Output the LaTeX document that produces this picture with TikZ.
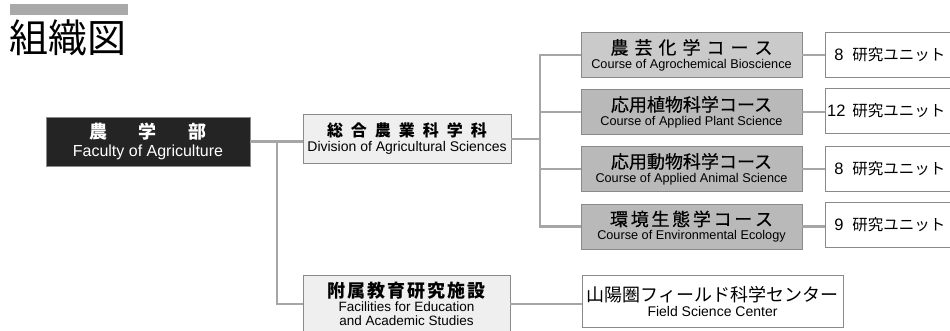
\documentclass[tikz,border=0pt]{standalone}
\usepackage{fontspec}
\setmainfont{Liberation Sans}
\newfontfamily\jp{Noto Sans CJK JP}
\newfontfamily\jpm[FakeBold=0.4]{Noto Sans CJK JP}
\newcommand{\enfs}[1]{\fontsize{#1}{#1}\selectfont}
\newcommand{\jpfs}[1]{\jp\fontsize{#1}{#1}\selectfont}
\newcommand{\jpmfs}[1]{\jpm\fontsize{#1}{#1}\selectfont}
\definecolor{linegray}{HTML}{A6A6A6}
\definecolor{bordergray}{HTML}{8A8A8A}
\definecolor{coursegrayA}{HTML}{CACACA}
\definecolor{coursegrayB}{HTML}{B9B9B9}
\definecolor{lightfill}{HTML}{EFEFEF}
\definecolor{facfill}{HTML}{242424}
\definecolor{barfill}{HTML}{A9A9A9}
\begin{document}
\begin{tikzpicture}[x=1pt,y=-1pt,
  conn/.style={draw=linegray, line width=2.6pt},
  boxbase/.style={draw=bordergray, line width=0.9pt, inner sep=0pt, align=center},
  facbox/.style={boxbase, fill=facfill, text=white, minimum width=204pt, minimum height=49pt},
  divbox/.style={boxbase, fill=lightfill, minimum width=208pt, minimum height=49pt},
  coursebox/.style={boxbase, fill=coursegrayB, minimum width=221pt, minimum height=45pt},
  unitbox/.style={boxbase, fill=white, anchor=west, minimum width=140pt, minimum height=45pt},
  fasbox/.style={boxbase, fill=lightfill, minimum width=207pt, minimum height=58pt},
  fldbox/.style={boxbase, fill=white, minimum width=261pt, minimum height=52pt},
  titlebar/.style={fill=barfill, inner sep=0pt, minimum width=118pt, minimum height=11pt}
]
\useasboundingbox (0,0) rectangle (950,331);
\fill[white] (0,0) rectangle (950,331);

% title
\node[titlebar] (bar) at (69,9.5) {};
\node[anchor=west, inner sep=0pt, font=\jpfs{39}] (title) at (9,38) {組織図};

% boxes
\node[facbox] (fac) at (148,141.5)
  {{\jpfs{18}\bfseries 農\hspace{32pt}学\hspace{32pt}部}\\[3pt]{\enfs{16}Faculty of Agriculture}};
\node[divbox] (div) at (407,139)
  {{\jpfs{16}\bfseries 総\hspace{8pt}合\hspace{8pt}農\hspace{8pt}業\hspace{8pt}科\hspace{8pt}学\hspace{8pt}科}\\[3pt]{\enfs{14}Division of Agricultural Sciences}};

\node[coursebox, fill=coursegrayA] (c1) at (691.5,55)
  {{\jpmfs{18}農\hspace{6pt}芸\hspace{6pt}化\hspace{6pt}学\hspace{6pt}コ\hspace{6pt}ー\hspace{6pt}ス}\\[2pt]{\enfs{12.7}Course of Agrochemical Bioscience}};
\node[coursebox] (c2) at (691.5,112)
  {{\jpmfs{18}応用植物科学コース}\\[2pt]{\enfs{12.7}Course of Applied Plant Science}};
\node[coursebox] (c3) at (691.5,169)
  {{\jpmfs{18}応用動物科学コース}\\[2pt]{\enfs{12.7}Course of Applied Animal Science}};
\node[coursebox] (c4) at (691.5,226.5)
  {{\jpmfs{18}環\hspace{2.7pt}境\hspace{2.7pt}生\hspace{2.7pt}態\hspace{2.7pt}学\hspace{2.7pt}コ\hspace{2.7pt}ー\hspace{2.7pt}ス}\\[2pt]{\enfs{12.7}Course of Environmental Ecology}};

\node[unitbox] (u1) at (825,55) {\makebox[118pt][r]{\enfs{16.5}8\hspace{9pt}\jpfs{15.5}研究ユニット}\hspace{18pt}};
\node[unitbox] (u2) at (825,111) {\makebox[118pt][r]{\enfs{16.5}12\hspace{7pt}\jpfs{15.5}研究ユニット}\hspace{18pt}};
\node[unitbox] (u3) at (825,168.5) {\makebox[118pt][r]{\enfs{16.5}8\hspace{9pt}\jpfs{15.5}研究ユニット}\hspace{18pt}};
\node[unitbox] (u4) at (825,225) {\makebox[118pt][r]{\enfs{16.5}9\hspace{9pt}\jpfs{15.5}研究ユニット}\hspace{18pt}};

\node[fasbox] (fas) at (406.5,304)
  {{\jpfs{18}\bfseries 附\hspace{2pt}属\hspace{2pt}教\hspace{2pt}育\hspace{2pt}研\hspace{2pt}究\hspace{2pt}施\hspace{2pt}設}\\[2pt]{\enfs{13.5}Facilities for Education}\\[1.5pt]{\enfs{13.5}and Academic Studies}};
\node[fldbox] (fld) at (712.5,301)
  {{\jpfs{18}山陽圏フィールド科学センター}\\[3pt]{\enfs{14}Field Science Center}};

% connectors
\coordinate (j1) at (277,141.5);
\coordinate (j2) at (540,139);
\draw[conn] (fac.east) -- (fac.east -| div.west);
\draw[conn] (j1) |- (fas.west);
\draw[conn] (div.east) -- (j2);
\draw[conn] (c1.west) -| (j2) |- (c4.west);
\draw[conn] (j2 |- c2.west) -- (c2.west);
\draw[conn] (j2 |- c3.west) -- (c3.west);
\draw[conn] (c1.east) -- (c1.east -| u1.west);
\draw[conn] (c2.east) -- (c2.east -| u2.west);
\draw[conn] (c3.east) -- (c3.east -| u3.west);
\draw[conn] (c4.east) -- (c4.east -| u4.west);
\draw[conn] (fas.east) -- (fas.east -| fld.west);
\end{tikzpicture}
\end{document}
